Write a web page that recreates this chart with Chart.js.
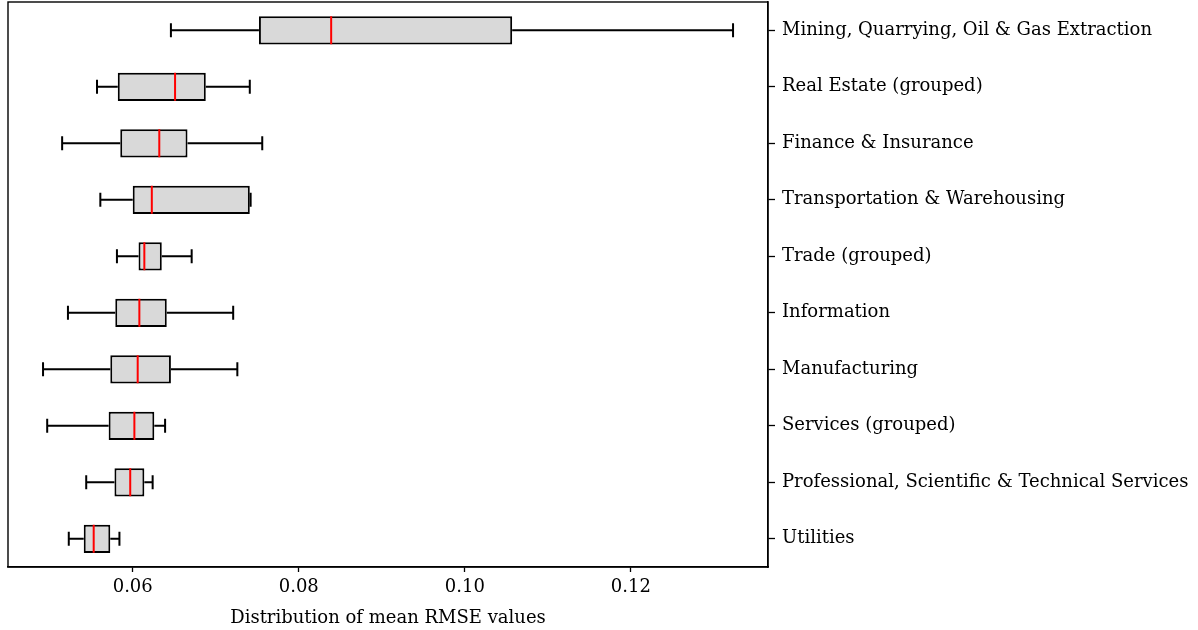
<!DOCTYPE html>
<html lang="en">
<head>
    <meta charset="UTF-8">
    <title>Mean RMSE by sector</title>
    <script src="https://cdn.jsdelivr.net/npm/chart.js"></script>
    <style>
        html, body { margin: 0; padding: 0; background: #fff; }
        #wrap { width: 1198px; height: 630px; position: relative; }
    </style>
</head>
<body>
<div id="wrap"><canvas id="boxChart"></canvas></div>

<script>
    // sectors, top to bottom
    const sectors = [
        'Mining, Quarrying, Oil & Gas Extraction',
        'Real Estate (grouped)',
        'Finance & Insurance',
        'Transportation & Warehousing',
        'Trade (grouped)',
        'Information',
        'Manufacturing',
        'Services (grouped)',
        'Professional, Scientific & Technical Services',
        'Utilities'
    ];

    // five-number summaries of mean RMSE per sector
    const whiskerLow = [0.0646, 0.0557, 0.0515, 0.0561, 0.0581, 0.0522, 0.0492, 0.0497, 0.0544, 0.0523];
    const q1         = [0.0752, 0.0582, 0.0585, 0.0600, 0.0607, 0.0579, 0.0573, 0.0571, 0.0578, 0.0541];
    const medians    = [0.0839, 0.0651, 0.0632, 0.0623, 0.0614, 0.0608, 0.0606, 0.0602, 0.0597, 0.0553];
    const q3         = [0.1057, 0.0688, 0.0666, 0.0741, 0.0635, 0.0641, 0.0646, 0.0626, 0.0614, 0.0573];
    const whiskerHigh = [0.1323, 0.0741, 0.0756, 0.0742, 0.0671, 0.0721, 0.0726, 0.0639, 0.0624, 0.0584];

    const xTicks = [0.06, 0.08, 0.10, 0.12];

    const FONT = { family: "'DejaVu Serif', serif", size: 18 };

    // whiskers, caps, medians and the frame around the plot
    const boxExtras = {
        id: 'boxExtras',
        afterDatasetsDraw(chart) {
            const { ctx, chartArea, scales: { x, y } } = chart;
            const capHalf = 7;
            const boxHalf = 14;
            ctx.save();
            ctx.lineCap = 'butt';
            sectors.forEach((s, i) => {
                const cy = y.getPixelForValue(i);
                const lo = x.getPixelForValue(whiskerLow[i]);
                const a = x.getPixelForValue(q1[i]);
                const b = x.getPixelForValue(q3[i]);
                const hi = x.getPixelForValue(whiskerHigh[i]);
                ctx.strokeStyle = '#000';
                ctx.lineWidth = 2;
                ctx.beginPath();
                ctx.moveTo(lo, cy); ctx.lineTo(a, cy);
                ctx.moveTo(b, cy); ctx.lineTo(hi, cy);
                ctx.moveTo(lo, cy - capHalf); ctx.lineTo(lo, cy + capHalf);
                ctx.moveTo(hi, cy - capHalf); ctx.lineTo(hi, cy + capHalf);
                ctx.stroke();

                const m = x.getPixelForValue(medians[i]);
                ctx.strokeStyle = '#ff0000';
                ctx.lineWidth = 2;
                ctx.beginPath();
                ctx.moveTo(m, cy - boxHalf); ctx.lineTo(m, cy + boxHalf);
                ctx.stroke();
            });
            ctx.strokeStyle = '#000';
            ctx.lineWidth = 1.4;
            ctx.strokeRect(chartArea.left, chartArea.top,
                chartArea.right - chartArea.left, chartArea.bottom - chartArea.top);
            ctx.restore();
        }
    };

    new Chart(document.getElementById('boxChart'), {
        type: 'bar',
        data: {
            labels: sectors,
            datasets: [{
                data: q1.map((v, i) => [v, q3[i]]),
                backgroundColor: '#d9d9d9',
                borderColor: '#000',
                borderWidth: 2,
                borderSkipped: false,
                barPercentage: 0.5,
                categoryPercentage: 1
            }]
        },
        options: {
            indexAxis: 'y',
            responsive: true,
            maintainAspectRatio: false,
            animation: false,
            devicePixelRatio: 1,
            layout: { padding: { left: 8, top: 2, right: 0, bottom: 0 } },
            plugins: {
                legend: { display: false },
                tooltip: { enabled: false }
            },
            scales: {
                x: {
                    type: 'linear',
                    min: 0.04498,
                    max: 0.13651,
                    afterBuildTicks: scale => {
                        scale.ticks = xTicks.map(v => ({ value: v }));
                    },
                    afterFit: scale => {
                        scale.height = 63;
                        scale.paddingLeft = 0;
                        scale.paddingRight = 0;
                    },
                    grid: {
                        drawOnChartArea: false,
                        color: '#000',
                        tickLength: 5,
                        tickWidth: 1.3
                    },
                    border: { color: '#000', width: 1.4 },
                    ticks: {
                        color: '#000',
                        font: FONT,
                        padding: 5,
                        maxRotation: 0,
                        callback: v => Number(v).toFixed(2)
                    },
                    title: {
                        display: true,
                        text: 'Distribution of mean RMSE values',
                        color: '#000',
                        font: FONT,
                        padding: { top: 0, bottom: 1 }
                    }
                },
                y: {
                    position: 'right',
                    afterFit: scale => {
                        scale.width = 430;
                        scale.paddingTop = 0;
                        scale.paddingBottom = 0;
                    },
                    grid: {
                        offset: false,
                        drawOnChartArea: false,
                        color: '#000',
                        tickLength: 7,
                        tickWidth: 1.3
                    },
                    border: { color: '#000', width: 1.4 },
                    ticks: {
                        color: '#000',
                        font: FONT,
                        padding: 7,
                        autoSkip: false
                    }
                }
            }
        },
        plugins: [boxExtras]
    });
</script>
</body>
</html>
